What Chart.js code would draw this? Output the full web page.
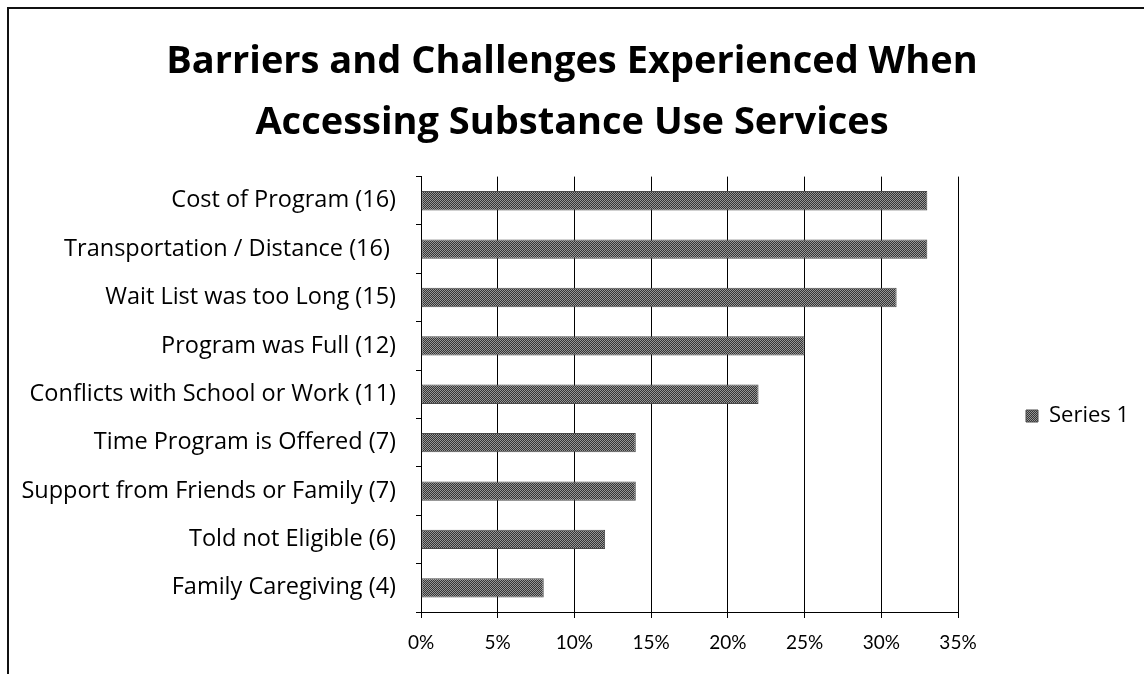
<!DOCTYPE html>
<html>
<head>
<meta charset="utf-8">
<title>Barriers and Challenges</title>
<script src="https://cdn.jsdelivr.net/npm/chart.js@4.4.1/dist/chart.umd.min.js"></script>
<style>
  html, body { margin: 0; padding: 0; background: #fff; }
  #wrap { position: relative; width: 1144px; height: 674px; overflow: hidden; }
  #frame {
    position: absolute; left: 7px; top: 7px; width: 1200px; height: 700px;
    border-left: 2px solid #111; border-top: 2px solid #111; pointer-events: none;
  }
  #chart { position: absolute; left: 0; top: 0; }
</style>
</head>
<body>
<div id="wrap">
  <div id="frame"></div>
  <canvas id="chart" width="1144" height="674"></canvas>
</div>
<script>
const categories = [
  "Cost of Program (16)",
  "Transportation / Distance (16) ",
  "Wait List was too Long (15)",
  "Program was Full (12)",
  "Conflicts with School or Work (11)",
  "Time Program is Offered (7)",
  "Support from Friends or Family (7)",
  "Told not Eligible (6)",
  "Family Caregiving (4)",
];
const series1 = [33, 33, 31, 25, 22, 14, 14, 12, 8];
const seriesName = "Series 1";
const titleLines = [
  "Barriers and Challenges Experienced When",
  "Accessing Substance Use Services",
];

const FONT = "'Open Sans', 'Noto Sans', sans-serif";
const TICK_FONT = "Lato, 'Open Sans', sans-serif";

// hatched grey fill like the scanned bars
function makePattern() {
  const c = document.createElement("canvas");
  c.width = 4;
  c.height = 4;
  const g = c.getContext("2d");
  g.fillStyle = "#353535";
  g.fillRect(0, 0, 4, 4);
  g.fillStyle = "#969696";
  for (let i = 0; i < 4; i++) {
    g.fillRect(i, i % 4, 1, 1);
    g.fillRect(i, (i + 2) % 4, 1, 1);
  }
  return g.createPattern(c, "repeat");
}

const legendPlace = {
  id: "legendPlace",
  beforeUpdate(chart) {
    const lg = chart.legend;
    if (lg && !lg._wrapped) {
      const fit = lg.fit.bind(lg);
      lg.fit = function () {
        fit();
        this.width = 1144 - 958;
      };
      lg._wrapped = true;
    }
  },
  afterLayout(chart) {
    const lg = chart.legend;
    if (!lg) return;
    lg.left = 1016;
    lg.right = 1144;
    lg.top = 356;
    lg.bottom = 476;
  },
};

const ctx = document.getElementById("chart").getContext("2d");

new Chart(ctx, {
  type: "bar",
  data: {
    labels: categories,
    datasets: [
      {
        label: seriesName,
        data: series1,
        backgroundColor: makePattern(),
        borderColor: "#4a4a4a",
        borderWidth: 1,
        borderSkipped: false,
        categoryPercentage: 1,
        barPercentage: 0.4,
      },
    ],
  },
  options: {
    indexAxis: "y",
    responsive: false,
    animation: false,
    layout: { padding: { left: 0, right: 0, top: 0, bottom: 0 } },
    plugins: {
      title: {
        display: true,
        text: titleLines,
        color: "#000",
        font: { family: FONT, size: 38, weight: "bold", lineHeight: 1.6 },
        padding: { top: 32, bottom: 23 },
      },
      legend: {
        display: true,
        position: "right",
        fullSize: false,
        labels: {
          color: "#000",
          font: { family: FONT, size: 22 },
          boxWidth: 12,
          boxHeight: 12,
          padding: 10,
        },
      },
      tooltip: { enabled: false },
    },
    scales: {
      x: {
        min: 0,
        max: 35,
        ticks: {
          stepSize: 5,
          color: "#000",
          font: { family: TICK_FONT, size: 19 },
          padding: 13,
          callback: (v) => v + "%",
        },
        grid: { color: "#000", lineWidth: 1, tickLength: 6, drawOnChartArea: true },
        border: { display: true, color: "#000", width: 1 },
        afterFit: (s) => { s.height = 674 - 612; },
      },
      y: {
        ticks: {
          color: "#000",
          font: { family: FONT, size: 23.5 },
          padding: 20,
        },
        grid: { color: "#000", offset: true, drawOnChartArea: false, tickLength: 5 },
        border: { display: true, color: "#000", width: 1 },
        afterFit: (s) => { s.width = 421; },
      },
    },
  },
  plugins: [legendPlace],
});
</script>
</body>
</html>
